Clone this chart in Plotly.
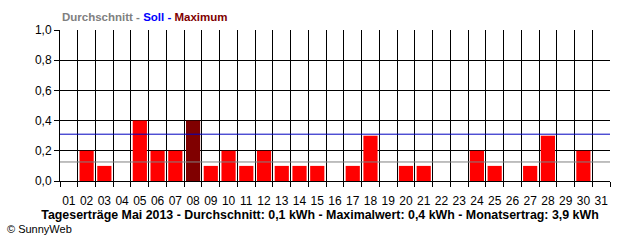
import plotly.graph_objects as go

days = [f"{d:02d}" for d in range(1, 32)]
values = [0.0, 0.2, 0.1, 0.0, 0.4, 0.2, 0.2, 0.4, 0.1, 0.2,
          0.1, 0.2, 0.1, 0.1, 0.1, 0.0, 0.1, 0.3, 0.0, 0.1,
          0.1, 0.0, 0.0, 0.2, 0.1, 0.0, 0.1, 0.3, 0.0, 0.2, 0.0]
max_day = "08"
soll = 0.31
avg = 0.126
y_ticks = [0.0, 0.2, 0.4, 0.6, 0.8, 1.0]

x_pos = list(range(1, len(days) + 1))
boundaries = [p - 0.5 for p in x_pos] + [x_pos[-1] + 0.5]
colors = ["#800000" if d == max_day else "#ff0000" for d in days]

fig = go.Figure()
fig.add_trace(go.Bar(x=x_pos, y=values, marker=dict(color=colors, line=dict(width=0)),
                     width=0.8, showlegend=False))
fig.add_hline(y=soll, line=dict(color="#0000c0", width=1), layer="above")
fig.add_hline(y=avg, line=dict(color="#808080", width=1), layer="above")

fig.update_layout(
    width=640, height=240,
    margin=dict(l=60, r=30, t=30, b=59),
    paper_bgcolor="white", plot_bgcolor="white",
    separators=",.",
    font=dict(family="Liberation Sans, Arial, sans-serif", size=12, color="black"),
    xaxis=dict(range=[0.5, 31.5], tickmode="array", tickvals=x_pos, ticktext=days,
               ticks="outside", ticklen=9, tickcolor="rgba(0,0,0,0)",
               showgrid=False, zeroline=False, showline=True,
               linecolor="black", linewidth=1,
               tickfont=dict(size=12),
               minor=dict(tickmode="array", tickvals=boundaries, showgrid=True,
                          gridcolor="black", gridwidth=1, ticks="outside",
                          ticklen=5, tickcolor="black", tickwidth=1)),
    yaxis=dict(range=[0, 1], tickmode="array", tickvals=y_ticks, tickformat=".1f",
               showgrid=True, gridcolor="black", gridwidth=1, zeroline=False,
               showline=True, linecolor="black", linewidth=1,
               ticks="outside", ticklen=5, tickcolor="black",
               tickfont=dict(size=12)),
    title=dict(text="<b>Tageserträge Mai 2013 - Durchschnitt: 0,1 kWh - Maximalwert: 0,4 kWh - Monatsertrag: 3,9 kWh</b>",
               x=320 / 640, xref="container", xanchor="center",
               y=1 - 215 / 240, yref="container", yanchor="middle",
               font=dict(size=12.4, color="black")),
    bargap=0.2,
)

fig.add_annotation(
    text="<b><span style='color:#808080'>Durchschnitt - </span>"
         "<span style='color:#0000ff'>Soll - </span>"
         "<span style='color:#800000'>Maximum</span></b>",
    xref="paper", yref="paper", x=0, y=(181 - 17) / 151,
    xanchor="left", yanchor="middle", showarrow=False, font=dict(size=11.5))
fig.add_annotation(
    text="© SunnyWeb", xref="paper", yref="paper", x=(5 - 60) / 550, y=(181 - 229) / 151,
    xanchor="left", yanchor="middle", showarrow=False, font=dict(size=11, color="black"))

fig.write_html("out.html")
